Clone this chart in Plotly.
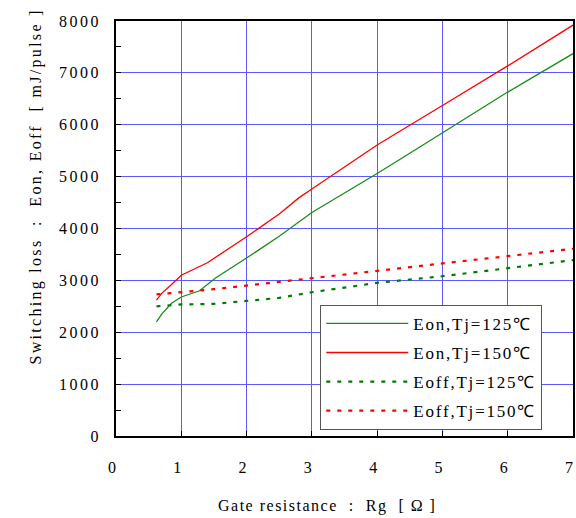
import plotly.graph_objects as go

# Data
rg_eon125 = [0.62, 0.7, 0.85, 1.0, 1.28, 1.53, 2.0, 2.5, 3.0, 3.5, 4.0, 4.5, 5.0, 5.5, 6.0, 6.5, 7.0]
eon125 = [2200, 2350, 2560, 2680, 2800, 3050, 3430, 3850, 4310, 4680, 5060, 5450, 5840, 6240, 6630, 7000, 7370]

rg_eon150 = [0.62, 0.7, 0.85, 1.0, 1.4, 2.0, 2.5, 2.8, 3.0, 3.5, 4.0, 5.0, 6.0, 7.0]
eon150 = [2620, 2750, 2920, 3100, 3340, 3840, 4280, 4590, 4760, 5190, 5610, 6370, 7135, 7920]

rg_eoff = [0.62, 1.0, 1.5, 2.0, 2.5, 3.0, 4.0, 5.0, 6.0, 7.0]
eoff125 = [2500, 2536, 2547, 2600, 2662, 2771, 2952, 3080, 3230, 3390]
eoff150 = [2730, 2770, 2830, 2900, 2970, 3035, 3177, 3320, 3468, 3610]

x_ticks = [0, 1, 2, 3, 4, 5, 6, 7]
y_ticks = [0, 1000, 2000, 3000, 4000, 5000, 6000, 7000, 8000]

names = ["Eon,Tj=125℃", "Eon,Tj=150℃", "Eoff,Tj=125℃", "Eoff,Tj=150℃"]
y_title = "Switching loss  :  Eon, Eoff  [ mJ/pulse ]"
x_title = "Gate resistance  :  Rg  [ Ω ]"

serif = "Liberation Serif, Times New Roman, serif"


def spaced(s, ls):
    return f'<span style="letter-spacing:{ls}px">{s}</span>'


fig = go.Figure()
styles = [
    dict(color="#1a8c1a", width=1.3),
    dict(color="#ff0000", width=1.3),
    dict(color="#007a00", width=2.2, dash="4px,7px"),
    dict(color="#ff0000", width=2.2, dash="4px,7px"),
]
series = [(rg_eon125, eon125), (rg_eon150, eon150), (rg_eoff, eoff125), (rg_eoff, eoff150)]
for i, ((xs, ys), st) in enumerate(zip(series, styles)):
    fig.add_trace(go.Scatter(x=xs, y=ys, mode="lines", name=spaced(names[i], 1.8),
                             legendgroup=f"g{i}", line=st))

fig.update_layout(
    width=576, height=518,
    margin=dict(l=116, r=1, t=21, b=82),
    paper_bgcolor="white", plot_bgcolor="white",
    font=dict(family=serif, size=16, color="black"),
    showlegend=True,
    legend=dict(x=0.447, y=0.316, xanchor="left", yanchor="top",
                bgcolor="white", bordercolor="#555555", borderwidth=1,
                font=dict(family=serif, size=17, color="black"),
                itemwidth=82, tracegroupgap=4),
    xaxis=dict(range=[0, 7], tickvals=x_ticks, ticktext=[spaced(str(v), 2) for v in x_ticks],
               showgrid=True, gridcolor="#5a5aff", gridwidth=1.3,
               showline=True, linecolor="black", linewidth=1.5, mirror=True,
               ticks="inside", ticklen=5, tickcolor="black",
               ticklabelstandoff=16, ticklabelshift=-3, ticklabeloverflow="allow",
               zeroline=False, tickfont=dict(family=serif, size=16)),
    yaxis=dict(range=[0, 8000], tickvals=y_ticks, ticktext=[spaced(str(v), 2.5) for v in y_ticks],
               showgrid=True, gridcolor="#5a5aff", gridwidth=1.3,
               showline=True, linecolor="black", linewidth=1.5, mirror=True,
               ticks="inside", ticklen=5, tickcolor="black",
               minor=dict(dtick=500, ticks="inside", ticklen=5, tickcolor="black", showgrid=False),
               ticklabelstandoff=10, zeroline=False,
               tickfont=dict(family=serif, size=16)),
    annotations=[
        dict(text=spaced(y_title, 2.3), textangle=-90,
             xref="paper", yref="paper", x=-0.176, y=0.6,
             xanchor="center", yanchor="middle", showarrow=False,
             font=dict(family=serif, size=16)),
        dict(text=spaced(x_title, 1.5),
             xref="paper", yref="paper", x=(328 - 116) / 459, y=-(506 - 436) / 415,
             xanchor="center", yanchor="middle", showarrow=False,
             font=dict(family=serif, size=16)),
    ],
)

fig.write_html("out.html")
